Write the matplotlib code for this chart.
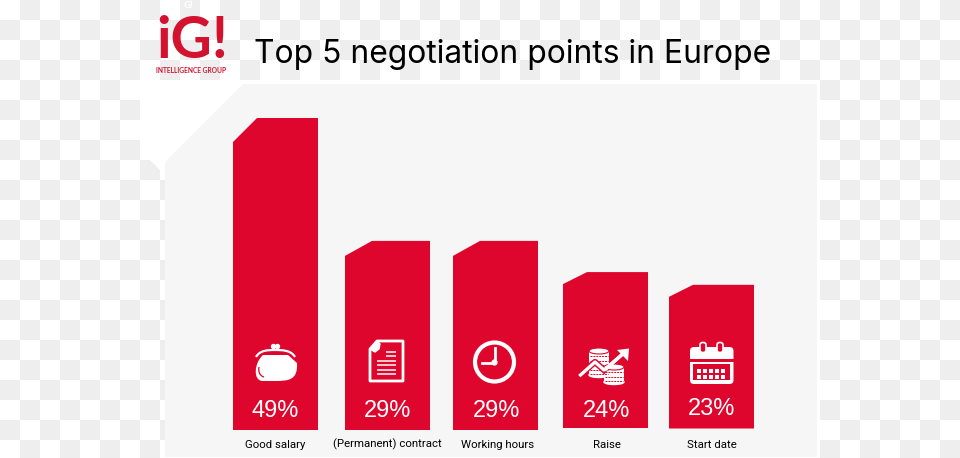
import matplotlib
matplotlib.use('Agg')
import matplotlib.pyplot as plt
from matplotlib.patches import Circle, Ellipse, FancyBboxPatch, PathPatch, Polygon, Rectangle
from matplotlib.path import Path

W, H = 960, 458
RED = '#de062c'
LOGO_RED = '#d2122e'

categories = ['Good salary', '(Permanent) contract', 'Working hours', 'Raise', 'Start date']
percent_labels = [49, 29, 29, 24, 23]
# drawn height of each bar (not quite the printed number)
bar_heights = [49, 29.7, 29.7, 24.8, 22.8]

# layout in pixels
BAR_LEFT = [233, 345, 453, 563, 669]
BAR_DROP = [0, 0, 0, 2, 1.5]
BAR_WIDTH = 85
CHAMFER_X = [24, 27, 27, 24, 24]
CHAMFER_Y = [24, 15, 15, 12, 12]
LABEL_X = [275.5, 387, 498, 607, 711.5]
PCT_X = [275, 388, 496.5, 606.5, 711.5]
PCT_Y = [411, 411, 411, 411, 409]

fig = plt.figure(figsize=(W / 100, H / 100), dpi=100)
ax = fig.add_axes([0, 0, 1, 1])
ax.set_xlim(0, W)
ax.set_ylim(H, 0)
ax.axis('off')


def draw_background():
    ax.add_patch(Rectangle((0, 0), W, H, color='white', zorder=0))
    for i in range(W // 20 + 1):
        for j in range(H // 20 + 1):
            if (i + j) % 2 == 1:
                ax.add_patch(Rectangle((i * 20, j * 20), 20, 20, color='#eeeeee', lw=0, zorder=0))
    # white backing behind the panel
    ax.add_patch(Polygon([(140, 80), (820, 80), (820, H), (165, H), (165, 170), (160, 170),
                          (150, 160), (140, 160)], color='white', lw=0, zorder=1))
    ax.add_patch(Polygon([(243, 84), (817, 84), (817, 457), (165, 457), (165, 162)],
                         color='#f6f6f6', lw=0, zorder=2))


def purse():
    body = Path([(263, 355), (254, 363), (253, 380), (262, 381), (275, 381), (289, 381),
                 (298, 380), (297, 363), (288, 355), (275, 355), (263, 355)],
                [Path.MOVETO, Path.CURVE4, Path.CURVE4, Path.CURVE4, Path.LINETO, Path.CURVE4,
                 Path.CURVE4, Path.CURVE4, Path.LINETO, Path.LINETO, Path.CLOSEPOLY])
    ax.add_patch(PathPatch(body, fc='white', ec='none', zorder=5))
    arc = Path([(256, 357), (260, 350), (268, 350), (275, 350), (282, 350), (291, 350), (295, 357)],
               [Path.MOVETO, Path.CURVE4, Path.CURVE4, Path.CURVE4, Path.CURVE4, Path.CURVE4, Path.CURVE4])
    ax.add_patch(PathPatch(arc, fc='none', ec='white', lw=1.6, zorder=5))
    ax.add_patch(Circle((273.5, 346.5), 2, color='white', zorder=5))
    ax.add_patch(Circle((277.5, 346.5), 2, color='white', zorder=5))
    curl = Path([(259, 367), (258, 372), (260, 376), (264, 377)],
                [Path.MOVETO, Path.CURVE4, Path.CURVE4, Path.CURVE4])
    ax.add_patch(PathPatch(curl, fc='none', ec=RED, lw=0.9, zorder=6))


def document():
    ax.add_patch(Polygon([(377, 341), (403, 341), (403, 381), (370, 381), (370, 349)],
                         fc='none', ec='white', lw=2.0, joinstyle='round', zorder=5))
    ax.add_patch(Polygon([(370, 349), (377, 341), (380, 344), (379, 349), (375, 352)],
                         fc='white', ec='white', lw=1, zorder=5))
    for y, x0, x1 in [(351.5, 386, 396), (356, 386, 396), (361, 377, 396), (365, 377, 396),
                      (369.5, 377, 396), (373.5, 377, 396)]:
        ax.plot([x0, x1], [y, y], color='white', lw=1.1, solid_capstyle='butt', zorder=5)


def clock():
    ax.add_patch(Circle((494.5, 362), 19.5, fc='none', ec='white', lw=3.0, zorder=5))
    ax.plot([494.5, 494.5], [348, 362], color='white', lw=2.0, zorder=5)
    ax.plot([482, 494.5], [362.5, 362.5], color='white', lw=2.0, zorder=5)
    ax.add_patch(Circle((494.5, 362.5), 2.4, color='white', zorder=5))


def coin_stack(cx, top, bottom):
    rx = 10
    ax.add_patch(Rectangle((cx - rx, top), 2 * rx, bottom - top, color='white', lw=0, zorder=5))
    ax.add_patch(Ellipse((cx, bottom), 2 * rx, 5, color='white', zorder=5))
    ax.add_patch(Ellipse((cx, top), 2 * rx, 6, fc='white', ec=RED, lw=0.8, zorder=6))
    y = top + 5
    while y < bottom + 1:
        ax.plot([cx - rx + 1, cx + rx - 1], [y, y], color=RED, lw=0.7, ls=(0, (2, 1)), zorder=6)
        y += 4.5


def coins():
    coin_stack(599, 351, 375)
    ax.plot([580, 595, 604], [375, 362, 370], color=RED, lw=4.5, zorder=6)
    ax.plot([580.5, 595, 604, 625], [375, 362, 370, 352], color='white', lw=2.4, zorder=7)
    coin_stack(614, 367, 382)
    ax.plot([606, 625], [369, 352], color='white', lw=2.4, zorder=7)
    ax.add_patch(Polygon([(617, 350), (629, 348.5), (628, 361)], color='white', lw=0, zorder=7))


def calendar():
    ax.add_patch(FancyBboxPatch((692, 349), 39.5, 33, boxstyle='round,pad=2,rounding_size=4',
                                fc='white', ec='none', zorder=5))
    ax.add_patch(Rectangle((690, 359), 43.5, 3, color=RED, lw=0, zorder=6))
    ax.add_patch(Rectangle((693, 364), 37, 15.5, color=RED, lw=0, zorder=6))
    for rx in [703, 720]:
        ax.add_patch(FancyBboxPatch((rx - 1.5, 344), 3, 7, boxstyle='round,pad=1.5,rounding_size=2.5',
                                    fc=RED, ec='white', lw=1.2, zorder=7))
    for row in range(2):
        for col in range(5):
            ax.add_patch(Rectangle((697 + col * 6, 369 + row * 5.5), 4.3, 4.2, color='white', lw=0, zorder=7))


draw_background()

# bars get their own axes so heights come from the value scale
bar_ax = fig.add_axes([0, (H - 430) / H, 1, (430 - 118) / H])
bar_ax.set_xlim(0, W)
bar_ax.set_ylim(0, 49)
bar_ax.axis('off')
bar_ax.set_zorder(1)
bar_ax.patch.set_alpha(0)
px = 49 / (430 - 118)

for i, h in enumerate(bar_heights):
    x0 = BAR_LEFT[i]
    x1 = x0 + BAR_WIDTH
    y0 = BAR_DROP[i] * px
    bar_ax.fill([x0, x1, x1, x0 + CHAMFER_X[i], x0, x0],
                [y0, y0, h, h, h - CHAMFER_Y[i] * px, y0], color=RED, lw=0)

ax.set_zorder(0)
icon_ax = fig.add_axes([0, 0, 1, 1], sharex=ax, sharey=ax)
icon_ax.axis('off')
icon_ax.patch.set_alpha(0)
icon_ax.set_zorder(2)
ax = icon_ax

purse()
document()
clock()
coins()
calendar()

for i, cat in enumerate(categories):
    ax.text(LABEL_X[i], 444.5, cat, ha='center', va='center', fontsize=8.2, family='Roboto', color='black')
    ax.text(PCT_X[i], PCT_Y[i], f'{percent_labels[i]}%', ha='center', va='center', fontsize=17,
            family='Liberation Sans', color='white', zorder=8)

ax.text(254, 54, 'Top 5 negotiation points in Europe', ha='left', va='center', fontsize=22.9,
        family='Inter', color='black')

# logo
ax.text(192, 41, 'iG!', ha='center', va='center', fontsize=41, family='Lato', fontweight='bold', color=LOGO_RED)
ax.text(191.5, 70.5, 'INTELLIGENCE GROUP', ha='center', va='center', fontsize=4.8, family='Lato',
        fontweight='bold', color=LOGO_RED)
ax.text(188, 5, 'G!', ha='center', va='center', fontsize=7, family='Lato', fontweight='bold', color='white')

fig.savefig('out.png', dpi=100)
